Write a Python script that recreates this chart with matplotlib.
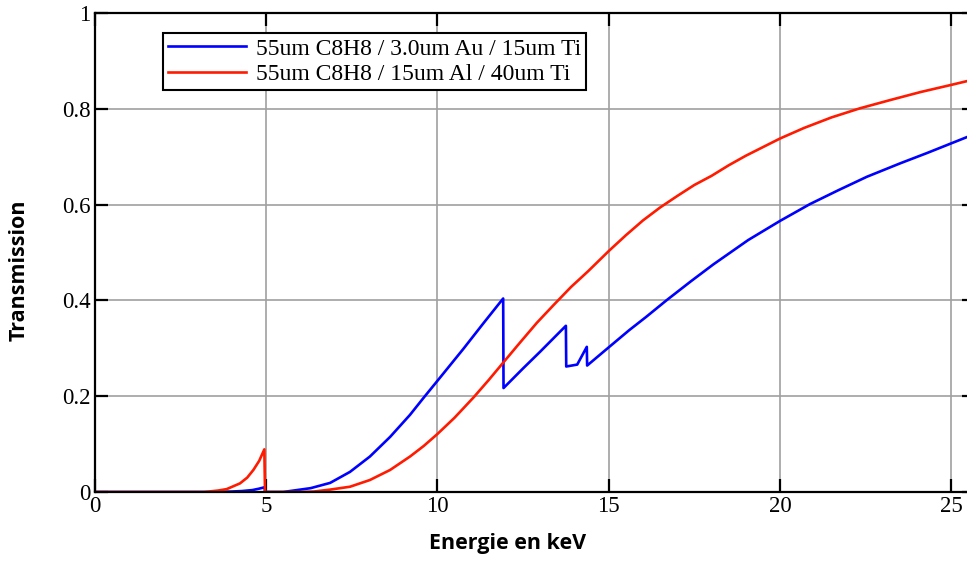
import matplotlib.pyplot as plt

# energy (keV) / transmission
energy_au = [0, 3.5, 4.0, 4.3, 4.6, 4.8, 4.96, 4.97, 5.5, 5.8, 6.3, 6.87, 7.45, 8.03,
             8.62, 9.2, 9.59, 10.0, 10.76, 11.34, 11.92, 11.93, 12.5, 13.0, 13.75, 13.76,
             14.08, 14.36, 14.37, 15.0, 15.6, 16.1, 16.7, 17.4, 18.05, 19.07, 20.0,
             20.87, 21.7, 22.53, 23.5, 24.3, 25.0, 25.7]
trans_au = [0, 0, 0.001, 0.002, 0.004, 0.007, 0.010, 0.0, 0.0, 0.003, 0.008, 0.019, 0.042,
            0.074, 0.115, 0.161, 0.196, 0.232, 0.299, 0.352, 0.404, 0.217, 0.258,
            0.293, 0.347, 0.262, 0.266, 0.303, 0.264, 0.302, 0.338, 0.366, 0.401, 0.440,
            0.475, 0.526, 0.566, 0.601, 0.630, 0.658, 0.686, 0.708, 0.728, 0.748]

energy_al = [0, 3.2, 3.6, 3.85, 4.24, 4.45, 4.63, 4.8, 4.95, 4.97, 6.0, 6.4, 6.87, 7.45,
             8.03, 8.62, 9.2, 9.6, 10.0, 10.5, 11.05, 11.5, 11.92, 12.4, 12.9, 13.4, 13.9,
             14.4, 15.0, 15.5, 16.0, 16.5, 17.0, 17.5, 18.0, 18.5, 19.0, 19.5, 20.0,
             20.7, 21.5, 22.33, 23.2, 24.1, 25.0, 25.7]
trans_al = [0, 0, 0.003, 0.006, 0.018, 0.030, 0.046, 0.065, 0.089, 0.0, 0.0, 0.001, 0.005,
            0.011, 0.025, 0.046, 0.074, 0.096, 0.121, 0.155, 0.197, 0.234, 0.270, 0.311,
            0.353, 0.391, 0.428, 0.461, 0.503, 0.536, 0.567, 0.594, 0.618, 0.641, 0.660,
            0.682, 0.702, 0.720, 0.738, 0.760, 0.782, 0.801, 0.818, 0.835, 0.850, 0.862]

label_au = '55um C8H8 / 3.0um Au / 15um Ti'
label_al = '55um C8H8 / 15um Al / 40um Ti'

x_ticks = [0, 5, 10, 15, 20, 25]
y_ticks = [0, 0.2, 0.4, 0.6, 0.8, 1]
y_tick_labels = ['0', '0.2', '0.4', '0.6', '0.8', '1']

W, H = 967, 563
fig = plt.figure(figsize=(W / 100, H / 100), dpi=100)
left, right, top, bottom = 94.7, 975.4, 13, 492
ax = fig.add_axes([left / W, 1 - bottom / H, (right - left) / W, (bottom - top) / H])

ax.plot(energy_au, trans_au, color='#0000ff', lw=1.9, label=label_au)
ax.plot(energy_al, trans_al, color='#ff1a00', lw=1.9, label=label_al)

ax.set_xlim(0, 25.7)
ax.set_ylim(0, 1)
ax.set_xticks(x_ticks)
ax.set_yticks(y_ticks)
ax.set_yticklabels(y_tick_labels)
ax.grid(True, color='#a0a0a0', lw=1.2)
ax.set_axisbelow(True)

for s in ax.spines.values():
    s.set_linewidth(1.6)
    s.set_color('black')

ax.tick_params(direction='in', length=9.5, width=1.6, top=True, right=True,
               labelsize=16.5, pad=3)
for lab in ax.get_xticklabels() + ax.get_yticklabels():
    lab.set_fontfamily('Liberation Serif')

leg = ax.legend(loc='upper left', bbox_to_anchor=(163 / W, 1 - 33 / H),
                bbox_transform=fig.transFigure, borderaxespad=0,
                prop={'family': 'Liberation Serif', 'size': 17},
                fancybox=False, framealpha=1, edgecolor='black',
                handlelength=3.3, handletextpad=0.4, labelspacing=0.15, borderpad=0.22)
leg.get_frame().set_linewidth(1.5)

fig.text(508 / W, 1 - 543 / H, 'Energie en keV', ha='center', va='center',
         fontfamily='Open Sans', fontweight='bold', fontsize=15.5)
fig.text(19 / W, 1 - 270 / H, 'Transmission', ha='center', va='center', rotation=90,
         fontfamily='Open Sans', fontweight='bold', fontsize=15.5)

plt.savefig('out.png', dpi=100)
